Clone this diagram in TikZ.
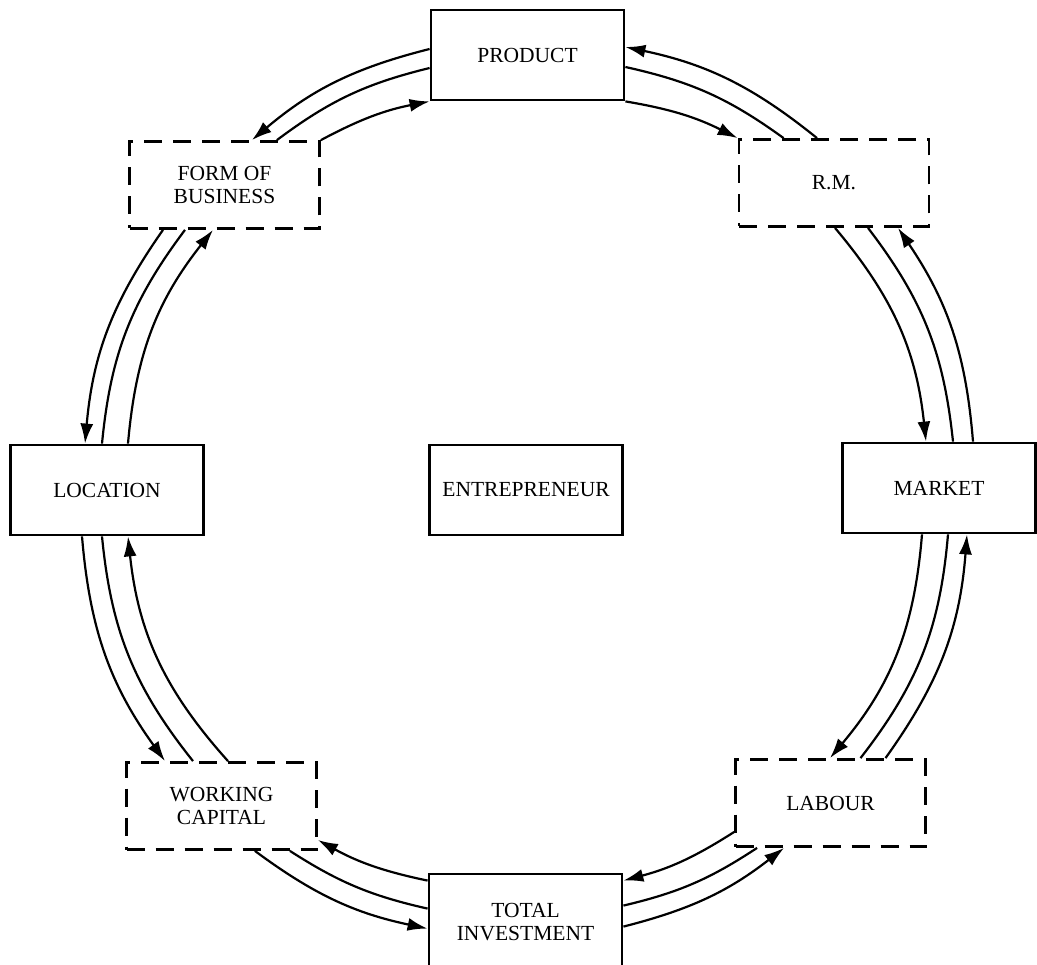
\documentclass[tikz,border=0pt]{standalone}
\usepackage{fontspec}
\setmainfont{Liberation Serif}
\usetikzlibrary{calc,arrows.meta}
\newcommand\boxfont{\fontsize{21.5}{23.5}\selectfont}
\begin{document}
\begin{tikzpicture}[x=1pt,y=-1pt,
  box/.style={draw, line width=2.8pt, minimum width=193pt, minimum height=90pt, inner sep=0pt, align=center, font=\boxfont},
  dbox/.style={box, minimum width=190pt, minimum height=87pt, dash pattern=on 18pt off 11pt},
  link/.style={line width=2.2pt},
  arr/.style={link, -{Latex[length=20pt,width=13pt]}}]
\fill[white] (0,0) rectangle (1037,965);
\useasboundingbox (0,0) rectangle (1037,965);

\node[box]  (prod) at (527.5,55)  {PRODUCT};
\node[dbox] (rm)   at (834,183)   {R.M.};
\node[box]  (mkt)  at (939,488)   {MARKET};
\node[dbox] (lab)  at (830.5,803) {LABOUR};
\node[box, minimum height=96pt] (tot) at (525.5,922) {TOTAL\\INVESTMENT};
\node[dbox] (wc)   at (221.5,806) {WORKING\\CAPITAL};
\node[box]  (loc)  at (107,490)   {LOCATION};
\node[dbox] (fob)  at (224.5,185) {FORM OF\\BUSINESS};
\node[box]  (ent)  at (526,490)   {ENTREPRENEUR};

% PRODUCT -- R.M.
\draw[arr]  (prod.south east) to[bend left=8.5] (rm.north west);
\draw[link] ($(prod.east)+(0,12)$) to[bend left=11.7] ($(rm.north west)+(46,0)$);
\draw[arr]  ($(rm.north)+(-17,0)$) to[bend right=13.5] ($(prod.east)+(0,-8)$);

% R.M. -- MARKET
\draw[arr]  ($(rm.south)+(1,0)$) to[bend left=17] ($(mkt.north)+(-13,0)$);
\draw[link] ($(rm.south)+(34,0)$) to[bend left=15.7] ($(mkt.north)+(14,0)$);
\draw[arr]  ($(mkt.north)+(34,0)$) to[bend right=14.7] ($(rm.south)+(64,0)$);

% MARKET -- LABOUR
\draw[arr]  ($(mkt.south)+(-17,0)$) to[bend left=17.7] ($(lab.north)+(-0.5,0)$);
\draw[link] ($(mkt.south)+(9,0)$) to[bend left=16.5] ($(lab.north)+(30,0)$);
\draw[arr]  ($(lab.north)+(55,0)$) to[bend right=15.6] ($(mkt.south)+(28,0)$);

% LABOUR -- TOTAL INVESTMENT
\draw[arr]  ($(lab.west)+(0,29)$) to[bend left=8.9] ($(tot.north east)+(0,8)$);
\draw[link] ($(lab.south west)+(23,0)$) to[bend left=10] ($(tot.north east)+(0,33)$);
\draw[arr]  ($(tot.north east)+(0,54)$) to[bend right=11.8] ($(lab.south west)+(50,0)$);

% TOTAL INVESTMENT -- WORKING CAPITAL
\draw[arr]  ($(tot.north west)+(0,8)$) to[bend left=8.5] ($(wc.east)+(0,34)$);
\draw[link] ($(tot.north west)+(0,36)$) to[bend left=10] ($(wc.south east)+(-28,0)$);
\draw[arr]  ($(wc.south east)+(-63,0)$) to[bend right=12.3] ($(tot.north west)+(0,56)$);

% WORKING CAPITAL -- LOCATION
\draw[arr]  ($(wc.north)+(6.5,0)$) to[bend left=17.9] ($(loc.south)+(21,0)$);
\draw[link] ($(wc.north)+(-28.5,0)$) to[bend left=16.5] ($(loc.south)+(-5,0)$);
\draw[arr]  ($(loc.south)+(-25,0)$) to[bend right=15.5] ($(wc.north)+(-56.5,0)$);

% LOCATION -- FORM OF BUSINESS
\draw[arr]  ($(loc.north)+(21,0)$) to[bend left=16.7] ($(fob.south)+(-11.5,0)$);
\draw[link] ($(loc.north)+(-5,0)$) to[bend left=15.7] ($(fob.south)+(-39.5,0)$);
\draw[arr]  ($(fob.south)+(-61.5,0)$) to[bend right=15] ($(loc.north)+(-22,0)$);

% FORM OF BUSINESS -- PRODUCT
\draw[arr]  (fob.north east) to[bend left=8.5] (prod.south west);
\draw[link] ($(fob.north east)+(-44,0)$) to[bend left=11.5] ($(prod.west)+(0,13)$);
\draw[arr]  ($(prod.west)+(0,-6)$) to[bend right=13] ($(fob.north east)+(-69,0)$);
\end{tikzpicture}
\end{document}
